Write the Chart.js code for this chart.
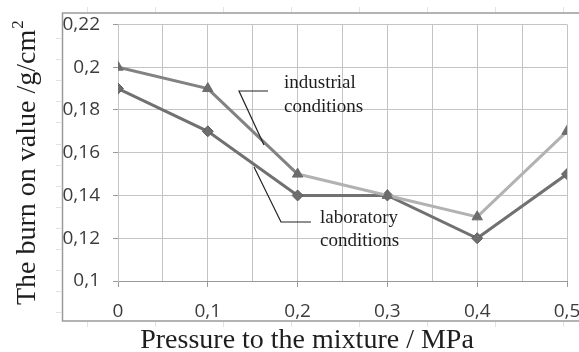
<!DOCTYPE html>
<html>
<head>
<meta charset="utf-8">
<script src="https://cdn.jsdelivr.net/npm/chart.js@4"></script>
<style>
  html, body { margin: 0; padding: 0; background: #fff; }
  #wrap { width: 579px; height: 352px; }
</style>
</head>
<body>
<div id="wrap"><canvas id="myChart" width="579" height="352"></canvas></div>
<script>
const pressure = [0, 0.1, 0.2, 0.3, 0.4, 0.5];
const industrial = [0.2, 0.19, 0.15, 0.14, 0.13, 0.17];
const laboratory = [0.19, 0.17, 0.14, 0.14, 0.12, 0.15];
const yTitle = "The burn on value /g/cm";
const xTitle = "Pressure to the mixture / MPa";
const industrialLabel = ["industrial", "conditions"];
const laboratoryLabel = ["laboratory", "conditions"];

function points(values) {
  return pressure.map((p, i) => ({ x: p, y: values[i] }));
}

function comma(v) {
  return String(+v.toFixed(2)).replace(".", ",");
}

// frame, faint outer ticks, titles and the two callouts
const decorations = {
  id: "decorations",
  beforeDraw(chart) {
    const ctx = chart.ctx;
    ctx.save();
    ctx.fillStyle = "#fff";
    ctx.fillRect(0, 0, chart.width, chart.height);
    ctx.strokeStyle = "#e2e2e2";
    ctx.lineWidth = 1;
    ctx.beginPath();
    for (let x = 87; x < 579; x += 68) {
      ctx.moveTo(x + 0.5, 7); ctx.lineTo(x + 0.5, 12);
      ctx.moveTo(x + 0.5, 322); ctx.lineTo(x + 0.5, 327);
    }
    for (let y = 38; y < 320; y += 21.1) {
      ctx.moveTo(56, Math.round(y) + 0.5); ctx.lineTo(61, Math.round(y) + 0.5);
    }
    ctx.stroke();
    ctx.strokeStyle = "#9a9a9a";
    ctx.lineWidth = 1.5;
    ctx.strokeRect(62.5, 13, 540, 308);
    ctx.restore();
  },
  afterDraw(chart) {
    const ctx = chart.ctx;
    ctx.save();
    ctx.fillStyle = "#1e1e1e";
    // x title
    ctx.font = "28px 'Liberation Serif'";
    ctx.textAlign = "center";
    ctx.textBaseline = "alphabetic";
    ctx.fillText(xTitle, 307, 348);
    // y title, rotated, with superscript 2
    ctx.translate(35, 305);
    ctx.rotate(-Math.PI / 2);
    ctx.textAlign = "left";
    ctx.font = "28px 'Liberation Serif'";
    ctx.fillText(yTitle, 0, 0);
    const w = ctx.measureText(yTitle).width;
    ctx.font = "17px 'Liberation Serif'";
    ctx.fillText("2", w + 1, -12);
    ctx.restore();

    // callouts
    ctx.save();
    ctx.strokeStyle = "#222";
    ctx.lineWidth = 1.2;
    ctx.beginPath();
    ctx.moveTo(268, 91); ctx.lineTo(239, 91); ctx.lineTo(264, 145);
    ctx.moveTo(254, 167); ctx.lineTo(281, 222); ctx.lineTo(311, 222);
    ctx.stroke();
    ctx.fillStyle = "#1e1e1e";
    ctx.font = "19px 'Liberation Serif'";
    ctx.textAlign = "left";
    ctx.textBaseline = "middle";
    ctx.fillText(industrialLabel[0], 284, 83);
    ctx.fillText(industrialLabel[1], 284, 107);
    ctx.fillText(laboratoryLabel[0], 320, 218);
    ctx.fillText(laboratoryLabel[1], 320, 241);
    ctx.restore();
  }
};

new Chart(document.getElementById("myChart"), {
  type: "line",
  data: {
    datasets: [
      {
        label: "industrial conditions",
        data: points(industrial),
        borderColor: "#b2b2b2",
        borderWidth: 3,
        segment: {
          borderColor: (c) => (c.p0DataIndex < 2 ? "#828282" : "#b2b2b2"),
        },
        pointStyle: "triangle",
        pointRadius: 6,
        pointBackgroundColor: "#6c6c6c",
        pointBorderColor: "#6c6c6c",
        pointBorderWidth: 1,
        tension: 0,
      },
      {
        label: "laboratory conditions",
        data: points(laboratory),
        borderColor: "#717171",
        borderWidth: 3,
        pointStyle: "rectRot",
        pointRadius: 5.5,
        pointBackgroundColor: "#6e6e6e",
        pointBorderColor: "#5e5e5e",
        pointBorderWidth: 1,
        tension: 0,
      },
    ],
  },
  options: {
    responsive: false,
    animation: false,
    events: [],
    layout: { padding: { left: 0, right: 12, top: 24, bottom: 0 } },
    plugins: {
      legend: { display: false },
      tooltip: { enabled: false },
    },
    scales: {
      x: {
        type: "linear",
        min: 0,
        max: 0.5,
        afterFit(scale) {
          scale.height = 71;
          scale.paddingLeft = 0;
          scale.paddingRight = 0;
        },
        afterBuildTicks(scale) {
          const t = [];
          for (let i = 0; i <= 10; i++) t.push({ value: i * 0.05 });
          scale.ticks = t;
        },
        grid: {
          color: "#c4c4c4",
          lineWidth: 1,
          tickLength: 6,
          tickColor: (c) => (c.index % 2 === 0 ? "#9a9a9a" : "rgba(0,0,0,0)"),
        },
        border: { color: "#9a9a9a" },
        ticks: {
          autoSkip: false,
          maxRotation: 0,
          padding: 13,
          color: "#3c3c3c",
          font: { family: "'Open Sans', sans-serif", size: 19 },
          callback: (v, i) => (i % 2 === 0 ? comma(v) : ""),
        },
      },
      y: {
        min: 0.1,
        max: 0.22,
        afterFit(scale) {
          scale.width = 118;
        },
        grid: {
          color: "#c4c4c4",
          lineWidth: 1,
          tickLength: 5,
          tickColor: "#9a9a9a",
        },
        border: { color: "#c4c4c4" },
        ticks: {
          stepSize: 0.02,
          padding: 13,
          color: "#3c3c3c",
          font: { family: "'Open Sans', sans-serif", size: 19 },
          callback: (v) => comma(v),
        },
      },
    },
  },
  plugins: [decorations],
});
</script>
</body>
</html>
